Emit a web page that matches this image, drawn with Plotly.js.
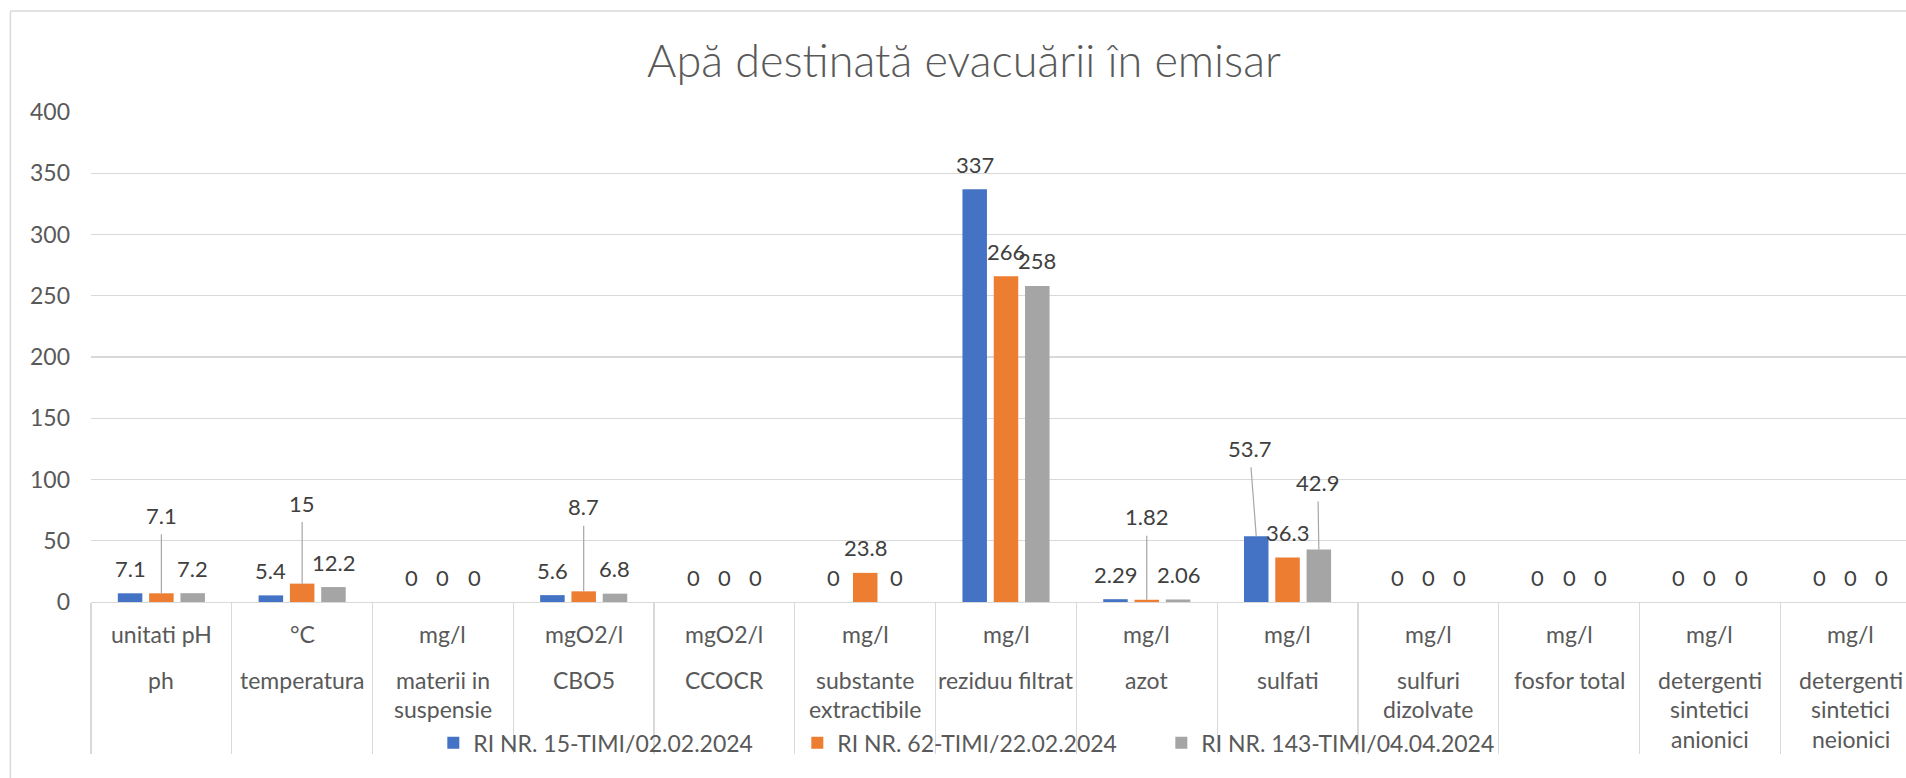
<!DOCTYPE html>
<html>
<head>
<meta charset="utf-8">
<script src="https://cdn.plot.ly/plotly-3.0.1.min.js"></script>
<style>
html,body{margin:0;padding:0;background:#fff;}
#chart{width:1906px;height:778px;}
</style>
</head>
<body>
<div id="chart"></div>
<script>
// ---- data ----
const categories = ['ph','temperatura','materii in<br>suspensie','CBO5','CCOCR','substante<br>extractibile','reziduu filtrat','azot','sulfati','sulfuri<br>dizolvate','fosfor total','detergenti<br>sintetici<br>anionici','detergenti<br>sintetici<br>neionici'];
const units = ['unitati pH','°C','mg/l','mgO2/l','mgO2/l','mg/l','mg/l','mg/l','mg/l','mg/l','mg/l','mg/l','mg/l'];
const seriesNames = ['RI NR. 15-TIMI/02.02.2024','RI NR. 62-TIMI/22.02.2024','RI NR. 143-TIMI/04.04.2024'];
const ri15  = [7.1, 5.4, 0, 5.6, 0, 0,    337, 2.29, 53.7, 0, 0, 0, 0];
const ri62  = [7.1, 15,  0, 8.7, 0, 23.8, 266, 1.82, 36.3, 0, 0, 0, 0];
const ri143 = [7.2, 12.2,0, 6.8, 0, 0,    258, 2.06, 42.9, 0, 0, 0, 0];
const yTicks = [0, 50, 100, 150, 200, 250, 300, 350, 400];
const chartTitle = 'Apă destinată evacuării în emisar';

// ---- style / layout ----
const colors = ['#4472C4', '#ED7D31', '#A5A5A5'];
const FONT = 'Lato, "Open Sans", sans-serif';
const W = 1906, H = 778;
const L = 90.6, R = 0, T = 112, B = 778 - 602;
const plotW = W - L - R, plotH = H - T - B;
const catPx = 140.8;
const xMax = -0.5 + plotW / catPx;
const BARGAP = 0.333, BARGROUPGAP = 0.217;
const px2paperX = px => (px - L) / plotW;
const px2paperY = py => (H - B - py) / plotH;

// leader-line label offsets (pixels) keyed "series,category"
const leaderOffsets = {
  '1,0': [0, -78],
  '1,1': [0, -80.6],
  '1,3': [0, -84.6],
  '1,7': [0, -83],
  '0,8': [-6.7, -88],
  '2,8': [-1, -67]
};

const series = [ri15, ri62, ri143];
const idx = categories.map((_, i) => i);

const traces = series.map((vals, k) => ({
  type: 'bar',
  name: seriesNames[k],
  x: idx,
  y: vals,
  marker: {color: colors[k]},
  hoverinfo: 'none'
}));

const annotations = [];
const slot = (1 - BARGAP) / series.length;
series.forEach((vals, k) => {
  vals.forEach((v, i) => {
    const xb = i + (k - (series.length - 1) / 2) * slot;
    const key = k + ',' + i;
    const base = {
      x: xb, y: v, xref: 'x', yref: 'y', text: String(v),
      font: {family: FONT, size: 22, color: '#404040'}
    };
    if (leaderOffsets[key]) {
      const o = leaderOffsets[key];
      annotations.push(Object.assign(base, {
        showarrow: true, arrowhead: 0, arrowwidth: 1.2, arrowcolor: '#a6a6a6',
        ax: o[0], ay: o[1], axref: 'pixel', ayref: 'pixel', borderpad: 5, standoff: 0
      }));
    } else {
      annotations.push(Object.assign(base, {
        showarrow: false, yanchor: 'middle', xanchor: 'center', yshift: 25
      }));
    }
  });
});

// category labels (unit row + name rows)
categories.forEach((c, i) => {
  annotations.push({
    x: i, y: px2paperY(634.3), xref: 'x', yref: 'paper', text: units[i],
    showarrow: false, yanchor: 'middle', xanchor: 'center',
    font: {family: FONT, size: 23, color: '#595959'}
  });
  c.split('<br>').forEach((line, j) => {
    annotations.push({
      x: i, y: px2paperY(680 + 29.3 * j), xref: 'x', yref: 'paper', text: line,
      showarrow: false, yanchor: 'middle', xanchor: 'center',
      font: {family: FONT, size: 23, color: '#595959'}
    });
  });
});

const shapes = [
  // chart area border (left and top)
  {type: 'line', xref: 'paper', yref: 'paper', x0: px2paperX(10), x1: px2paperX(10), y0: px2paperY(11), y1: px2paperY(800), line: {color: '#d9d9d9', width: 1.5}},
  {type: 'line', xref: 'paper', yref: 'paper', x0: px2paperX(10), x1: px2paperX(1910), y0: px2paperY(11), y1: px2paperY(11), line: {color: '#d9d9d9', width: 1.5}}
];

const boundaries = categories.map((_, i) => i - 0.5);

const layout = {
  width: W, height: H,
  margin: {l: L, r: R, t: T, b: B, autoexpand: false},
  paper_bgcolor: '#fff', plot_bgcolor: '#fff',
  font: {family: FONT, color: '#595959'},
  title: {
    text: chartTitle, xref: 'container', yref: 'container',
    x: 964 / W, y: 1 - 61 / H, xanchor: 'center', yanchor: 'middle',
    font: {family: FONT, size: 45, color: '#595959', weight: 300}
  },
  barmode: 'group', bargap: BARGAP, bargroupgap: BARGROUPGAP,
  xaxis: {
    range: [-0.5, xMax], fixedrange: true,
    tickmode: 'array', tickvals: boundaries, ticktext: boundaries.map(() => ''),
    ticks: 'outside', ticklen: 151, tickwidth: 1.3, tickcolor: '#d9d9d9',
    showticklabels: false, showgrid: false, zeroline: false,
    showline: true, linecolor: '#d9d9d9', linewidth: 1.3
  },
  yaxis: {
    range: [0, 400], fixedrange: true,
    tickmode: 'array', tickvals: yTicks, ticktext: yTicks.map(String),
    ticks: '', ticklabelstandoff: 20,
    tickfont: {family: FONT, size: 23, color: '#595959'},
    showgrid: true, gridcolor: '#d9d9d9', gridwidth: 1.3,
    zeroline: false, showline: false
  },
  showlegend: true,
  legend: {
    orientation: 'h', x: px2paperX(433), y: px2paperY(742.7),
    xanchor: 'left', yanchor: 'middle',
    entrywidth: 319, entrywidthmode: 'pixels',
    font: {family: FONT, size: 23, color: '#595959'},
    bgcolor: 'rgba(0,0,0,0)', traceorder: 'normal'
  },
  annotations: annotations,
  shapes: shapes
};

Plotly.newPlot('chart', traces, layout, {displayModeBar: false, staticPlot: true});
</script>
</body>
</html>
